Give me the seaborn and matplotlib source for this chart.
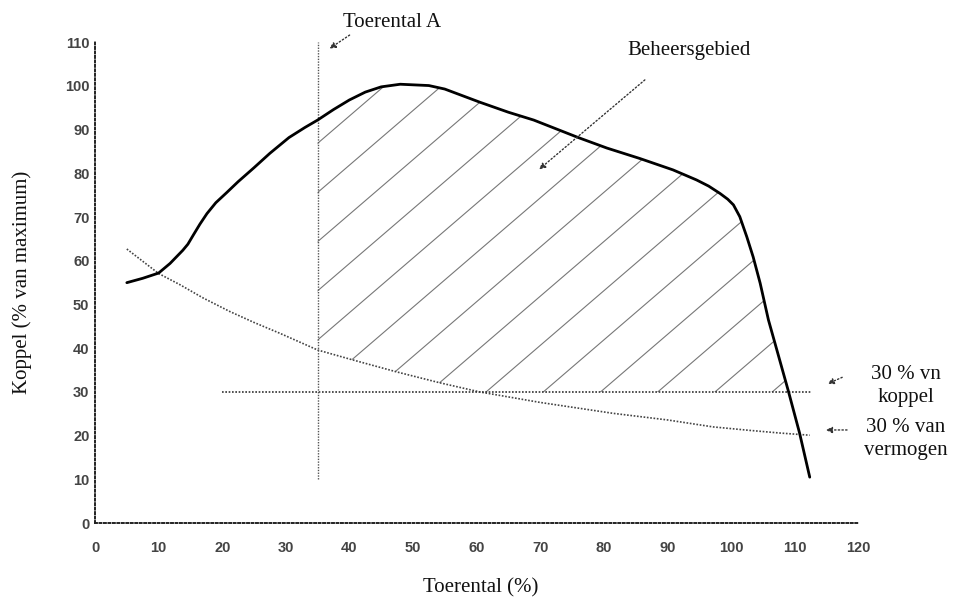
"""
Koppel/toerental-diagram met beheersgebied (gearceerd).
"""
import numpy as np
import pandas as pd
import matplotlib.pyplot as plt
import seaborn as sns

sns.set_theme(style="white")
plt.rcParams["font.family"] = ["Liberation Serif", "DejaVu Serif"]

# maximaal koppel (% van maximum) tegen toerental (%)
torque_x = [5, 7.5, 10, 11.8, 12.8, 13.8, 14.6, 15.5, 16.5, 17.6, 19, 20.7,
            22.5, 25, 27.5, 30.5, 33, 35, 37.5, 40, 42.5, 45, 48, 52.5, 55,
            60.5, 65, 69, 76, 80.5, 85.7, 90.9, 94.6, 96.5, 98.3, 99.5, 100.4,
            101.4, 102.5, 103.5, 104.6, 105.9, 107.5, 109, 110.8, 112.4]
torque_y = [55, 56, 57.2, 59.4, 60.9, 62.4, 63.8, 66, 68.4, 70.8, 73.3, 75.6,
            78.1, 81.3, 84.6, 88.2, 90.5, 92.2, 94.6, 96.8, 98.6, 99.8, 100.4,
            100.1, 99.3, 96.3, 94, 92.2, 88.2, 85.8, 83.4, 80.8, 78.5, 77.1,
            75.4, 74.1, 72.8, 70.1, 65.5, 60.9, 54.9, 46.5, 38.2, 30.4, 20.6,
            10.5]

# lijn van 30 % vermogen
power_x = [5, 7.5, 10, 13.4, 17, 21.2, 25, 29.1, 35, 40.6, 47.4, 54.2, 60.5,
           70, 81.5, 90, 97.2, 103, 107.7, 112.4]
power_y = [62.7, 59.9, 57.1, 54.5, 51.5, 48.4, 45.9, 43.4, 39.6, 37.3, 34.6,
           32.1, 30, 27.6, 25.1, 23.6, 22, 21.2, 20.6, 20.1]

speed_a = 35            # toerental A
speed_a_span = [10, 110]
torque_limit = 30       # 30 % van koppel
torque_limit_span = [20, 112.7]

x_ticks = list(range(0, 121, 10))
y_ticks = list(range(0, 111, 10))

fig = plt.figure(figsize=(9.55, 6.04), dpi=100)
ax = fig.add_axes([0.0995, 0.134, 0.7990, 0.796])

torque = pd.DataFrame({"toerental": torque_x, "koppel": torque_y})
power = pd.DataFrame({"toerental": power_x, "koppel": power_y})

# beheersgebied: tussen max(vermogenslijn, 30 %) en de koppelkromme, rechts van A
xs = np.union1d(torque_x, power_x)
xs = xs[(xs >= speed_a) & (xs <= 109)]
upper = np.interp(xs, torque_x, torque_y)
lower = np.maximum(np.interp(xs, power_x, power_y), torque_limit)
region = ax.fill_between(xs, lower, upper, facecolor="none", edgecolor="none")
clip = region.get_paths()[0]

# arcering
slope, step, anchor = 1.25, 9.0, 61.5
for x0 in anchor + step * np.arange(-8, 6):
    hx = np.array([speed_a - 5, 115])
    ln, = ax.plot(hx, torque_limit + slope * (hx - x0), color="#777777", lw=0.8)
    ln.set_clip_path(clip, ax.transData)

sns.lineplot(data=power, x="toerental", y="koppel", ax=ax, color="#444444",
             lw=1.2, linestyle=(0, (1, 1)), sort=False)
ax.hlines(torque_limit, *torque_limit_span, color="#333333", lw=1.2,
          linestyle=(0, (1, 1)))
ax.vlines(speed_a, *speed_a_span, color="#555555", lw=1.0, linestyle=(0, (1, 1)))
sns.lineplot(data=torque, x="toerental", y="koppel", ax=ax, color="black",
             lw=2, sort=False)

ax.set_xlim(0, 120)
ax.set_ylim(0, 110)
ax.set_xticks(x_ticks)
ax.set_yticks(y_ticks)
for lab in ax.get_xticklabels() + ax.get_yticklabels():
    lab.set_family("Liberation Sans")
    lab.set_fontweight("bold")
ax.tick_params(axis="both", labelsize=10.5, labelcolor="#444444", length=2,
               width=1, color="#333333", direction="out")
ax.tick_params(axis="x", pad=11)
ax.tick_params(axis="y", pad=2)
ax.grid(False)

for side in ["top", "right"]:
    ax.spines[side].set_visible(False)
for side in ["left", "bottom"]:
    ax.spines[side].set_linestyle((0, (1, 1.3)))
    ax.spines[side].set_linewidth(1.4)
    ax.spines[side].set_color("#222222")

ax.set_xlabel("Toerental (%)", fontsize=15, color="#111111")
ax.set_ylabel("Koppel (% van maximum)", fontsize=15, color="#111111")
ax.xaxis.set_label_coords(0.506, -0.114)
ax.yaxis.set_label_coords(-0.083, 0.50)

arrow = dict(arrowstyle="-|>", linestyle=":", color="#333333", lw=1,
             mutation_scale=9)
txt = dict(fontsize=15, color="#111111", ha="center", va="center",
           clip_on=False)

ax.text(46.7, 114.6, "Toerental A", **txt)
ax.annotate("", xy=(36.5, 108.2), xytext=(40.4, 112), arrowprops=arrow,
            annotation_clip=False)

ax.text(93.4, 108.2, "Beheersgebied", **txt)
ax.annotate("", xy=(69.5, 80.5), xytext=(86.8, 101.8), arrowprops=arrow)

ax.text(127.5, 31.3, "30 % vn\nkoppel", linespacing=1.3, **txt)
ax.annotate("", xy=(114.8, 31.6), xytext=(117.9, 33.6), arrowprops=arrow,
            annotation_clip=False)

ax.text(127.5, 19.2, "30 % van\nvermogen", linespacing=1.3, zorder=5,
        bbox=dict(facecolor="white", edgecolor="none", pad=0), **txt)
ax.annotate("", xy=(114.5, 21.3), xytext=(118.7, 21.3), arrowprops=arrow,
            annotation_clip=False)

fig.savefig("out.png", dpi=100)
plt.close(fig)
